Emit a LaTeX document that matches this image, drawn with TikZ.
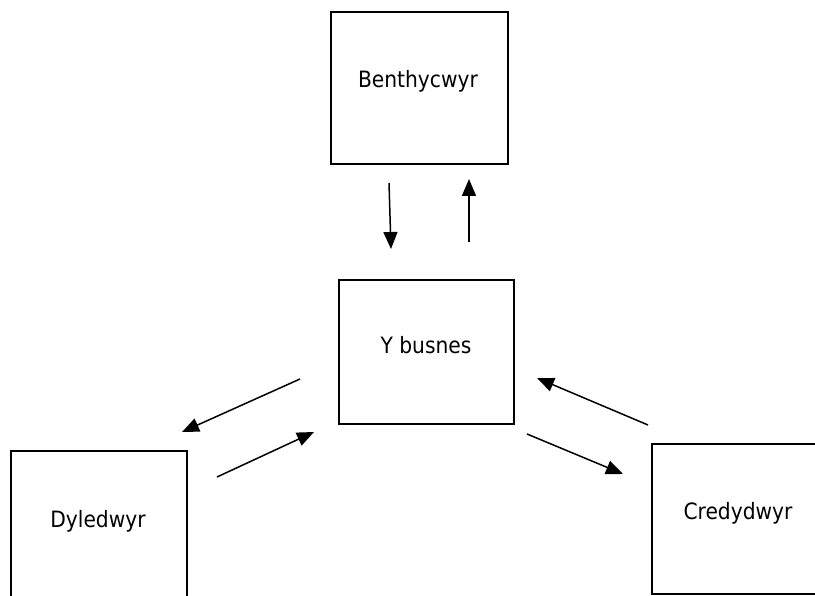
\documentclass[tikz,border=0pt]{standalone}
\usepackage{fontspec}
\setmainfont{DejaVu Sans Condensed}
\usetikzlibrary{arrows.meta}
\begin{document}
\begin{tikzpicture}[x=1pt,y=-1pt,
  box/.style={draw=black,line width=2pt,rectangle,inner sep=0pt,anchor=north west},
  lbl/.style={anchor=base,inner sep=0pt,font=\fontsize{22.5}{26}\selectfont},
  flow/.style={line width=1.5pt,-{Triangle[length=17pt,width=14pt]}}]
\useasboundingbox (0,0) rectangle (815,596);
\clip (0,0) rectangle (815,596);
% boxes
\node[box,minimum width=177pt,minimum height=152pt] (benth) at (330,11) {};
\node[box,minimum width=175pt,minimum height=144pt] (busnes) at (338,279) {};
\node[box,minimum width=176pt,minimum height=152pt] (dyled) at (10,450) {};
\node[box,minimum width=176pt,minimum height=150pt] (credyd) at (651,443) {};
% labels
\node[lbl] (tbenth) at (418,88) {Benthycwyr};
\node[lbl] (tbusnes) at (426,354) {Y busnes};
\node[lbl] (tdyled) at (98,527) {Dyledwyr};
\node[lbl] (tcredyd) at (738,519) {Credydwyr};
% arrow ends
\coordinate (a1s) at (389,183); \coordinate (a1e) at (391,249);
\coordinate (a2s) at (469,242); \coordinate (a2e) at (469,179);
\coordinate (a3s) at (300,379); \coordinate (a3e) at (182,432);
\coordinate (a4s) at (217,477); \coordinate (a4e) at (314,432);
\coordinate (a5s) at (648,425); \coordinate (a5e) at (537,378);
\coordinate (a6s) at (527,434); \coordinate (a6e) at (623,474);
\draw[flow] (a1s) -- (a1e);
\draw[flow] (a2s) -- (a2e);
\draw[flow] (a3s) -- (a3e);
\draw[flow] (a4s) -- (a4e);
\draw[flow] (a5s) -- (a5e);
\draw[flow] (a6s) -- (a6e);
\end{tikzpicture}
\end{document}
